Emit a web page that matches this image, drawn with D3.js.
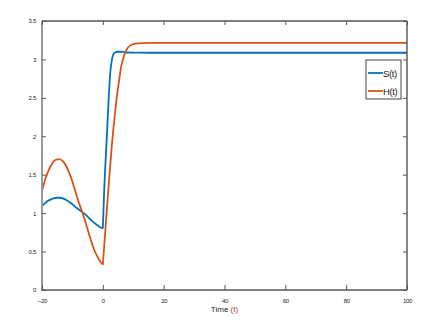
<!DOCTYPE html>
<html>
<head>
<meta charset="utf-8">
<script src="https://cdn.jsdelivr.net/npm/d3@7"></script>
<style>
  body { margin: 0; background: #fff; }
  svg text { font-family: "Liberation Sans", Arial, sans-serif; }
</style>
</head>
<body>
<div id="chart"></div>
<script>
// time points (history part -20..0, then the response)
let timeS = [-20, -19, -18, -17, -16, -15, -14, -13, -12, -11, -10, -9, -8, -7, -6, -5, -4, -3, -2, -1, 0,
  0.5, 1, 1.5, 2, 2.5, 3, 3.5, 4, 5, 6, 7, 8, 10, 15, 20, 40, 60, 80, 100];
let valuesS = [1.09, 1.13, 1.16, 1.18, 1.195, 1.20, 1.20, 1.19, 1.17, 1.145, 1.115, 1.08, 1.05, 1.02, 0.99, 0.955, 0.915, 0.88, 0.85, 0.82, 0.80,
  1.35, 1.75, 2.15, 2.55, 2.85, 3.0, 3.07, 3.09, 3.10, 3.10, 3.095, 3.09, 3.088, 3.087, 3.087, 3.087, 3.087, 3.087, 3.087];

let timeH = [-20, -19, -18, -17, -16, -15, -14, -13, -12, -11, -10, -9, -8, -7, -6, -5, -4, -3, -2, -1, 0,
  0.5, 1, 1.5, 2, 2.5, 3, 3.5, 4, 4.5, 5, 5.5, 6, 6.5, 7, 7.5, 8, 9, 10, 12, 15, 20, 40, 60, 80, 100];
let valuesH = [1.29, 1.43, 1.54, 1.62, 1.68, 1.70, 1.70, 1.67, 1.61, 1.52, 1.41, 1.28, 1.15, 1.04, 0.92, 0.79, 0.66, 0.54, 0.45, 0.38, 0.33,
  0.60, 0.87, 1.14, 1.40, 1.65, 1.90, 2.11, 2.30, 2.48, 2.63, 2.77, 2.90, 2.98, 3.05, 3.10, 3.14, 3.18, 3.20, 3.21, 3.215, 3.215, 3.215, 3.215, 3.215, 3.215];

let xTicks = [-20, 0, 20, 40, 60, 80, 100];
let yTicks = [0, 0.5, 1, 1.5, 2, 2.5, 3, 3.5];
let seriesNames = ["S(t)", "H(t)"];
let seriesColors = ["#0072BD", "#D95319"];

let width = 443, height = 328;
let margin = { top: 21, right: 36, bottom: 38, left: 42 };

let svg = d3.select('#chart')
  .append('svg')
  .attr('width', width)
  .attr('height', height);

let x = d3.scaleLinear().domain([-20, 100]).range([margin.left, width - margin.right]);
let y = d3.scaleLinear().domain([0, 3.5]).range([height - margin.bottom, margin.top]);

// box frame
let x0 = x.range()[0], x1 = x.range()[1], y0 = y.range()[0], y1 = y.range()[1];

// series
let series = [
  { name: seriesNames[0], color: seriesColors[0], pts: timeS.map((t, i) => [t, valuesS[i]]) },
  { name: seriesNames[1], color: seriesColors[1], pts: timeH.map((t, i) => [t, valuesH[i]]) }
];

let line = d3.line()
  .x(d => x(d[0]))
  .y(d => y(d[1]))
  .curve(d3.curveMonotoneX);

// draw each piece separately so the kink at t = 0 stays sharp
series.forEach(function(s) {
  let before = s.pts.filter(p => p[0] <= 0);
  let after = s.pts.filter(p => p[0] >= 0);
  [before, after].forEach(function(seg) {
    svg.append('path')
      .datum(seg)
      .attr('d', line)
      .attr('fill', 'none')
      .attr('stroke', s.color)
      .attr('stroke-width', 1.8);
  });
});

// axes
svg.append('line').attr('x1', x0).attr('x2', x1).attr('y1', y1).attr('y2', y1)
  .attr('stroke', '#555').attr('stroke-width', 1.3);
svg.append('line').attr('x1', x1).attr('x2', x1).attr('y1', y1).attr('y2', y0)
  .attr('stroke', '#444').attr('stroke-width', 1.3);
svg.append('line').attr('x1', x0).attr('x2', x1).attr('y1', y0).attr('y2', y0)
  .attr('stroke', '#555').attr('stroke-width', 1.5);
svg.append('line').attr('x1', x0).attr('x2', x0).attr('y1', y1).attr('y2', y0 + 1)
  .attr('stroke', '#999').attr('stroke-width', 2);

let bottomAxis = d3.axisBottom(x).tickValues(xTicks).tickSize(-5).tickPadding(9).tickFormat(d3.format('d'));
let leftAxis = d3.axisLeft(y).tickValues(yTicks).tickSize(-4).tickPadding(6).tickFormat(d => d);
let topAxis = d3.axisTop(x).tickValues(xTicks).tickSize(-4).tickFormat('');
let rightAxis = d3.axisRight(y).tickValues(yTicks).tickSize(-4).tickFormat('');

function styleAxis(g) {
  g.select('.domain').remove();
  g.selectAll('.tick line').attr('stroke', '#555');
  g.selectAll('.tick text')
    .attr('fill', '#222')
    .style('font-size', '6px')
    .style('font-family', '"Liberation Sans", Arial, sans-serif')
    .style('letter-spacing', '-0.3px');
}

svg.append('g').attr('transform', 'translate(0,' + y0 + ')').call(bottomAxis).call(styleAxis);
svg.append('g').attr('transform', 'translate(' + x0 + ',0)').call(leftAxis).call(styleAxis);
svg.append('g').attr('transform', 'translate(0,' + y1 + ')').call(topAxis).call(styleAxis);
svg.append('g').attr('transform', 'translate(' + x1 + ',0)').call(rightAxis).call(styleAxis);

// x label
let xl = svg.append('text')
  .attr('x', (x0 + x1) / 2)
  .attr('y', 312)
  .attr('text-anchor', 'middle')
  .style('font-size', '8px')
  .attr('fill', '#222');
xl.append('tspan').text('Time ');
xl.append('tspan').attr('fill', '#a4441a').text('(t)');

// legend
let legend = svg.append('g').attr('transform', 'translate(366,60)');
legend.append('rect')
  .attr('width', 35).attr('height', 39)
  .attr('fill', '#fff').attr('stroke', '#444').attr('stroke-width', 1);
series.forEach(function(s, i) {
  let ly = 13 + i * 18;
  legend.append('line')
    .attr('x1', 2).attr('x2', 17).attr('y1', ly).attr('y2', ly)
    .attr('stroke', s.color).attr('stroke-width', 1.8);
  legend.append('text')
    .attr('x', 17).attr('y', ly + 3.5)
    .style('font-size', '9.5px')
    .style('letter-spacing', '-0.4px')
    .attr('fill', '#222')
    .text(s.name);
});
</script>
</body>
</html>
